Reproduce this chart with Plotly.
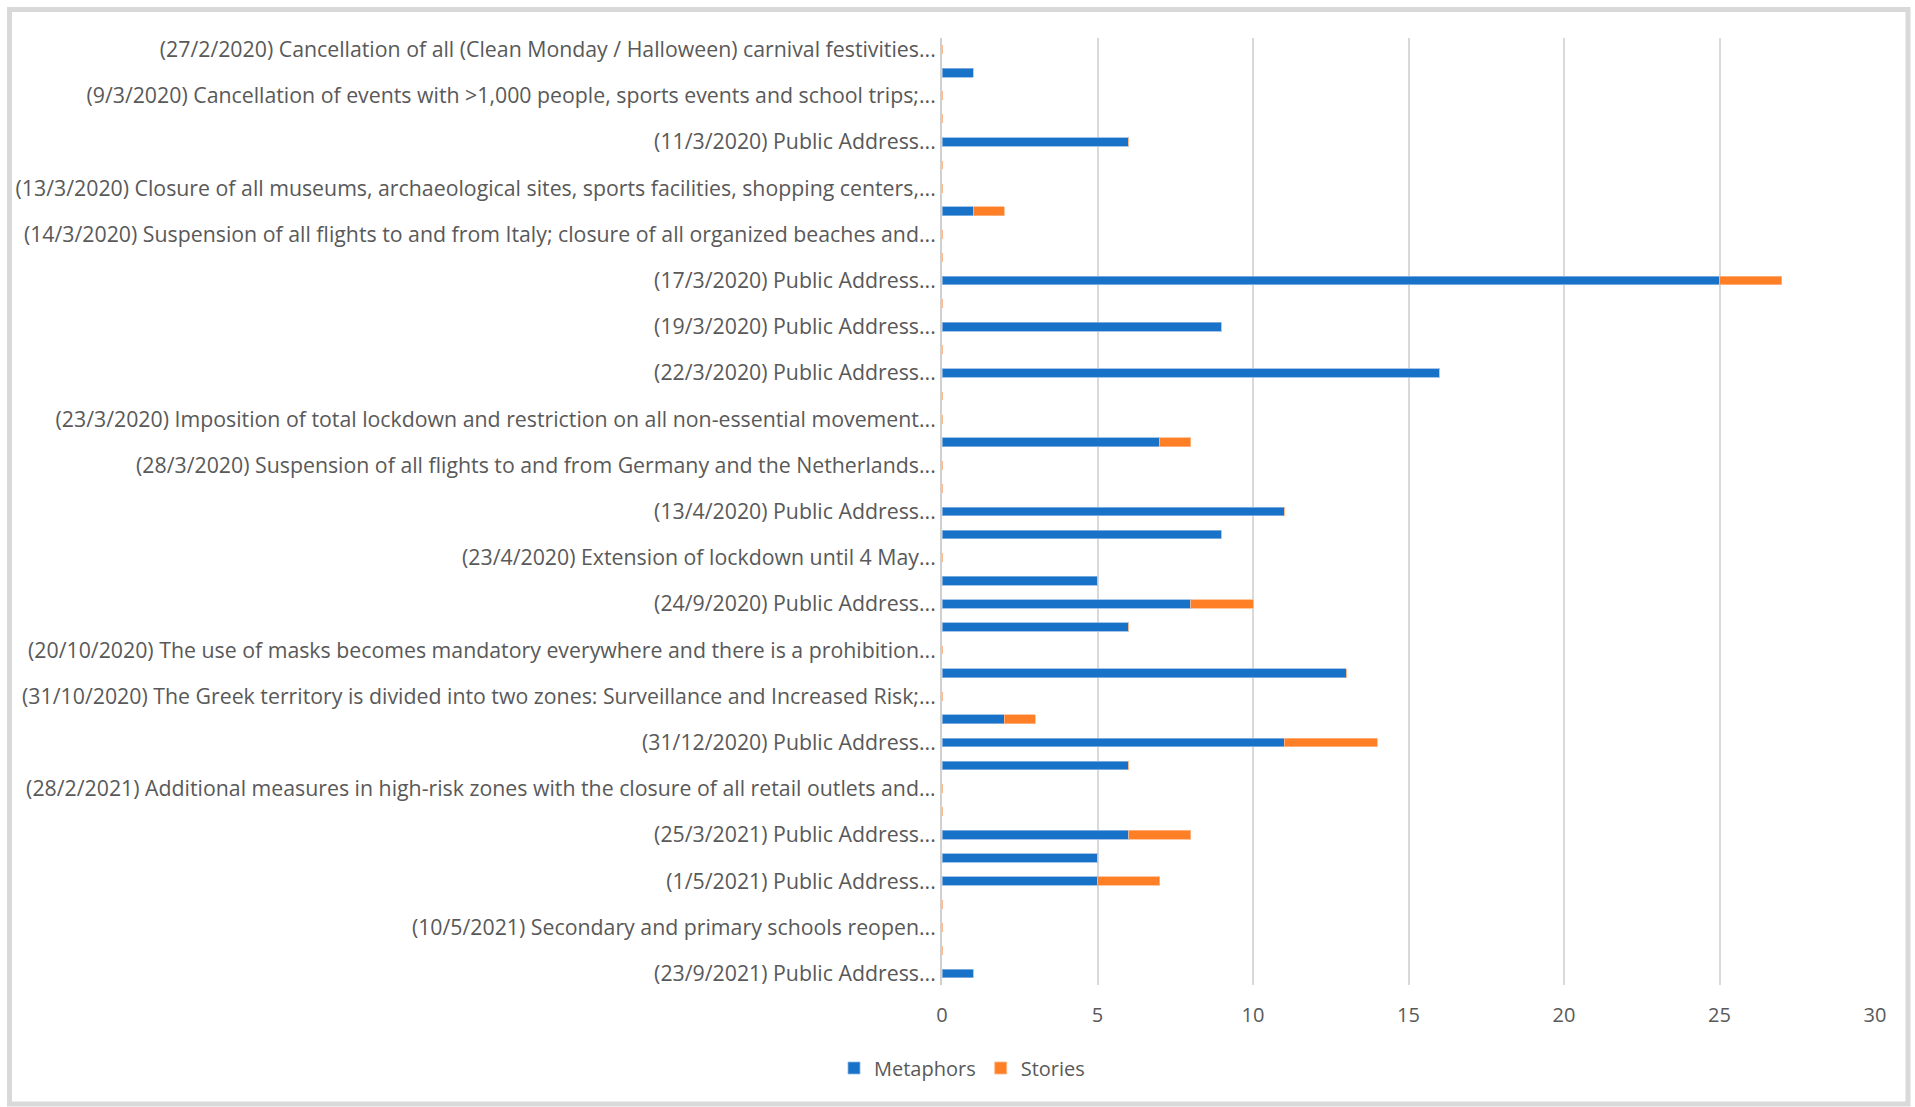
import plotly.graph_objects as go

# Category labels (Excel shows every second label; hidden ones are unknown -> "")
categories = [
    "(27/2/2020) Cancellation of all (Clean Monday / Halloween) carnival festivities...", "",
    "(9/3/2020) Cancellation of events with >1,000 people, sports events and school trips;...", "",
    "(11/3/2020) Public Address...", "",
    "(13/3/2020) Closure of all museums, archaeological sites, sports facilities, shopping centers,...", "",
    "(14/3/2020) Suspension of all flights to and from Italy; closure of all organized beaches and...", "",
    "(17/3/2020) Public Address...", "",
    "(19/3/2020) Public Address...", "",
    "(22/3/2020) Public Address...", "",
    "(23/3/2020) Imposition of total lockdown and restriction on all non-essential movement...", "",
    "(28/3/2020) Suspension of all flights to and from Germany and the Netherlands...", "",
    "(13/4/2020) Public Address...", "",
    "(23/4/2020) Extension of lockdown until 4 May...", "",
    "(24/9/2020) Public Address...", "",
    "(20/10/2020) The use of masks becomes mandatory everywhere and there is a prohibition...", "",
    "(31/10/2020) The Greek territory is divided into two zones: Surveillance and Increased Risk;...", "",
    "(31/12/2020) Public Address...", "",
    "(28/2/2021) Additional measures in high-risk zones with the closure of all retail outlets and...", "",
    "(25/3/2021) Public Address...", "",
    "(1/5/2021) Public Address...", "",
    "(10/5/2021) Secondary and primary schools reopen...", "",
    "(23/9/2021) Public Address...",
]

metaphors = [0, 1, 0, 0, 6, 0, 0, 1, 0, 0,
             25, 0, 9, 0, 16, 0, 0, 7, 0, 0,
             11, 9, 0, 5, 8, 6, 0, 13, 0, 2,
             11, 6, 0, 0, 6, 5, 5, 0, 0, 0,
             1]
stories = [0, 0, 0, 0, 0, 0, 0, 1, 0, 0,
           2, 0, 0, 0, 0, 0, 0, 1, 0, 0,
           0, 0, 0, 0, 2, 0, 0, 0, 0, 1,
           3, 0, 0, 0, 2, 0, 2, 0, 0, 0,
           0]

x_ticks = [0, 5, 10, 15, 20, 25, 30]

positions = list(range(len(categories)))
tickvals = [i for i, c in enumerate(categories) if c]
ticktext = [c for c in categories if c]

W, H = 1915, 1107
L, R, T, B = 942, 40, 38, 122
pw, ph = W - L - R, H - T - B

def px_x(px):
    return (px - L) / pw

def px_y(py):
    return (H - B - py) / ph

BLUE = "#1772C8"
ORANGE = "#FF7F27"
GRAY = "#595959"
FONT = "Open Sans"

fig = go.Figure()
fig.add_trace(go.Bar(
    y=positions, x=metaphors, orientation="h", name="Metaphors",
    marker=dict(color=BLUE, line=dict(color="#8EB8E3", width=0.8)),
))
fig.add_trace(go.Bar(
    y=positions, x=stories, orientation="h", name="Stories",
    marker=dict(color=ORANGE, line=dict(color="#FFB98A", width=0.8)),
))

fig.update_layout(
    width=W, height=H,
    barmode="stack", bargap=0.62,
    margin=dict(l=L, r=R, t=T, b=B, pad=0),
    paper_bgcolor="white", plot_bgcolor="white",
    font=dict(family=FONT, size=20, color=GRAY),
    legend=dict(
        orientation="h", x=px_x(962), xanchor="center",
        y=px_y(1068), yanchor="middle",
        font=dict(family=FONT, size=20, color=GRAY),
        itemwidth=30, traceorder="normal",
    ),
    xaxis=dict(
        range=[0, 30], tickvals=x_ticks, showgrid=True,
        gridcolor="#D9D9D9", gridwidth=1.5, zeroline=False,
        ticks="outside", ticklen=12, tickcolor="rgba(0,0,0,0)",
        tickfont=dict(family=FONT, size=20, color=GRAY),
        fixedrange=True,
    ),
    yaxis=dict(
        range=[len(categories) - 0.5, -0.5],
        tickvals=tickvals, ticktext=ticktext,
        showgrid=False, zeroline=False,
        showline=True, linecolor="#D0D0D0", linewidth=2,
        ticks="", 
        tickfont=dict(family=FONT, size=21.3, color=GRAY),
        fixedrange=True,
    ),
    shapes=[dict(
        type="rect", xref="paper", yref="paper",
        x0=px_x(9.5), x1=px_x(1908), y0=px_y(1104), y1=px_y(9.5),
        line=dict(color="#D9D9D9", width=5), fillcolor="rgba(0,0,0,0)",
        layer="below",
    )],
)

fig.write_html(
    "out.html",
    config={"displayModeBar": False},
    post_script="document.body.style.margin='0';document.body.style.overflow='hidden';",
)
